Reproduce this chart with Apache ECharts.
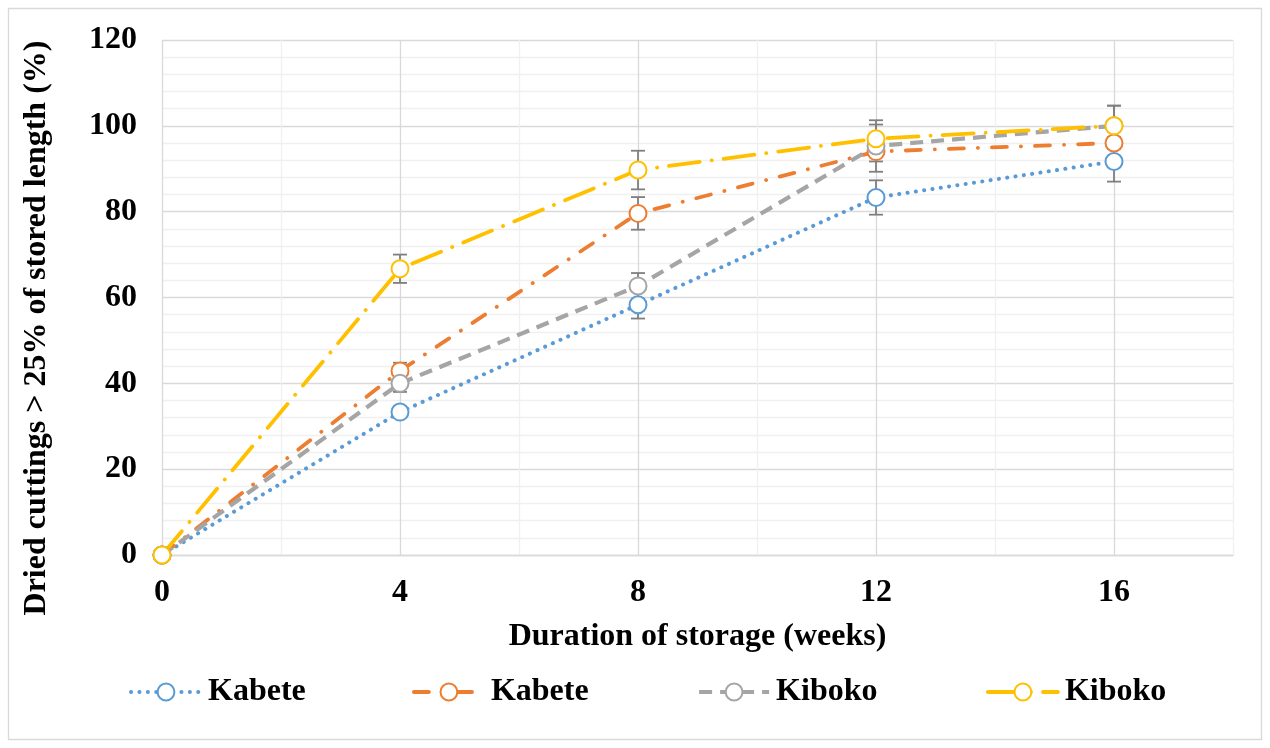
<!DOCTYPE html>
<html>
<head>
<meta charset="utf-8">
<script src="https://cdn.jsdelivr.net/npm/echarts@6/dist/echarts.min.js"></script>
<style>
  html, body { margin: 0; padding: 0; background: #fff; }
  #chart { width: 1270px; height: 748px; }
</style>
</head>
<body>
<div id="chart"></div>
<script>
// Storage duration (weeks)
const weeks = [0, 4, 8, 12, 16];

// Share of dried cuttings (%) per cultivar / treatment
const kabeteA = [0, 33.3, 58.3, 83.3, 91.7];
const kabeteB = [0, 42.9, 79.6, 94.0, 96.0];
const kibokoA = [0, 40.0, 62.7, 95.3, 100];
const kibokoB = [0, 66.7, 89.7, 97.0, 100];

// Error bar half-widths (%)
const kabeteAErr = [0, 0, 3.2, 4.0, 4.7];
const kabeteBErr = [0, 1.9, 3.8, 2.3, 1.4];
const kibokoAErr = [0, 2.0, 3.0, 6.0, 4.7];
const kibokoBErr = [0, 3.3, 4.5, 3.3, 4.7];

// Axis ticks
const xTicks = [0, 4, 8, 12, 16];
const yTicks = [0, 20, 40, 60, 80, 100, 120];

const FONT = 'Liberation Serif';
const FS = 32;
const chart = echarts.init(document.getElementById('chart'));

const seriesDefs = [
  { id: 'kabeteA', label: 'Kabete', values: kabeteA, err: kabeteAErr, color: '#5B9BD5', dash: [0.1, 8.3], cap: 'round', width: 4 },
  { id: 'kabeteB', label: 'Kabete', values: kabeteB, err: kabeteBErr, color: '#ED7D31', dash: [15, 14, 0.1, 14], cap: 'round', width: 3.8 },
  { id: 'kibokoA', label: 'Kiboko', values: kibokoA, err: kibokoAErr, color: '#A5A5A5', dash: [13, 8], cap: 'butt', width: 4.2 },
  { id: 'kibokoB', label: 'Kiboko', values: kibokoB, err: kibokoBErr, color: '#FFC000', dash: [31, 12, 0.1, 12], cap: 'round', width: 3.8 }
];

const pairs = (vals) => weeks.map((w, i) => [w, vals[i]]);

const errorSeries = seriesDefs.map((d) => ({
  type: 'custom',
  name: d.id + '-err',
  z: 1,
  silent: true,
  data: weeks.map((w, i) => [w, d.values[i] - d.err[i], d.values[i] + d.err[i]]),
  renderItem: function (params, api) {
    const lo = api.coord([api.value(0), api.value(1)]);
    const hi = api.coord([api.value(0), api.value(2)]);
    if (Math.abs(hi[1] - lo[1]) < 0.5) return null;
    const half = 7;
    const style = { stroke: '#7F7F7F', lineWidth: 1.8 };
    return {
      type: 'group',
      children: [
        { type: 'line', shape: { x1: lo[0], y1: lo[1], x2: hi[0], y2: hi[1] }, style },
        { type: 'line', shape: { x1: lo[0] - half, y1: lo[1], x2: lo[0] + half, y2: lo[1] }, style },
        { type: 'line', shape: { x1: hi[0] - half, y1: hi[1], x2: hi[0] + half, y2: hi[1] }, style }
      ]
    };
  }
}));

const lineSeries = seriesDefs.map((d) => ({
  type: 'line',
  name: d.id,
  z: 3,
  data: pairs(d.values),
  symbol: 'emptyCircle',
  symbolSize: 17,
  showAllSymbol: true,
  lineStyle: { color: d.color, width: d.width, type: d.dash, cap: d.cap },
  itemStyle: { color: d.color, borderColor: d.color, borderWidth: 2.9 },
  emphasis: { disabled: true },
  animation: false
}));

const labelOf = {};
seriesDefs.forEach((d) => { labelOf[d.id] = d.label; });

const legendLefts = [124, 407, 692, 981];
const legends = seriesDefs.map((d, i) => ({
  data: [d.id],
  left: legendLefts[i],
  top: 671,
  itemWidth: 70,
  itemHeight: 21,
  itemGap: 0,
  selectedMode: false,
  formatter: (name) => labelOf[name],
  lineStyle: { width: d.width },
  itemStyle: { borderWidth: 2.9 },
  textStyle: {
    fontFamily: FONT, fontWeight: 'bold', fontSize: FS, color: '#000',
    padding: [0, 0, 0, 2]
  }
}));

chart.setOption({
  animation: false,
  backgroundColor: '#fff',
  grid: { left: 162, right: 37, top: 40, bottom: 193, containLabel: false },
  xAxis: {
    type: 'value',
    min: 0,
    max: 18,
    interval: 2,
    name: 'Duration of storage (weeks)',
    nameLocation: 'middle',
    nameGap: 66,
    nameTextStyle: { fontFamily: FONT, fontWeight: 'bold', fontSize: FS, color: '#000', verticalAlign: 'top' },
    axisLine: { show: true, lineStyle: { color: '#D9D9D9', width: 1.3 } },
    axisTick: { show: false },
    axisLabel: {
      fontFamily: FONT, fontWeight: 'bold', fontSize: FS, color: '#000', margin: 22,
      showMaxLabel: false,
      formatter: (v) => (xTicks.indexOf(v) >= 0 ? String(v) : '')
    },
    splitLine: { show: true, lineStyle: { color: ['#D9D9D9', '#F0F0F0'], width: 1.3 } }
  },
  yAxis: {
    type: 'value',
    min: yTicks[0],
    max: yTicks[yTicks.length - 1],
    interval: 20,
    axisLine: { show: false },
    axisTick: { show: false },
    axisLabel: { fontFamily: FONT, fontWeight: 'bold', fontSize: FS, color: '#000', margin: 25 },
    splitLine: { show: true, lineStyle: { color: '#D9D9D9', width: 1.3 } },
    minorTick: { show: false, splitNumber: 5 },
    minorSplitLine: { show: true, lineStyle: { color: '#F0F0F0', width: 1.3 } }
  },
  legend: legends,
  graphic: [
    {
      type: 'rect',
      shape: { x: 8.5, y: 8.5, width: 1253, height: 731 },
      style: { fill: 'none', stroke: '#D9D9D9', lineWidth: 1.3 },
      silent: true, z: -10
    },
    {
      type: 'text',
      x: 37, y: 328,
      rotation: Math.PI / 2,
      style: {
        text: 'Dried cuttings > 25% of stored length (%)',
        fontFamily: FONT, fontWeight: 'bold', fontSize: FS, fill: '#000',
        align: 'center', verticalAlign: 'middle'
      },
      silent: true
    }
  ],
  series: errorSeries.concat(lineSeries)
});
</script>
</body>
</html>
